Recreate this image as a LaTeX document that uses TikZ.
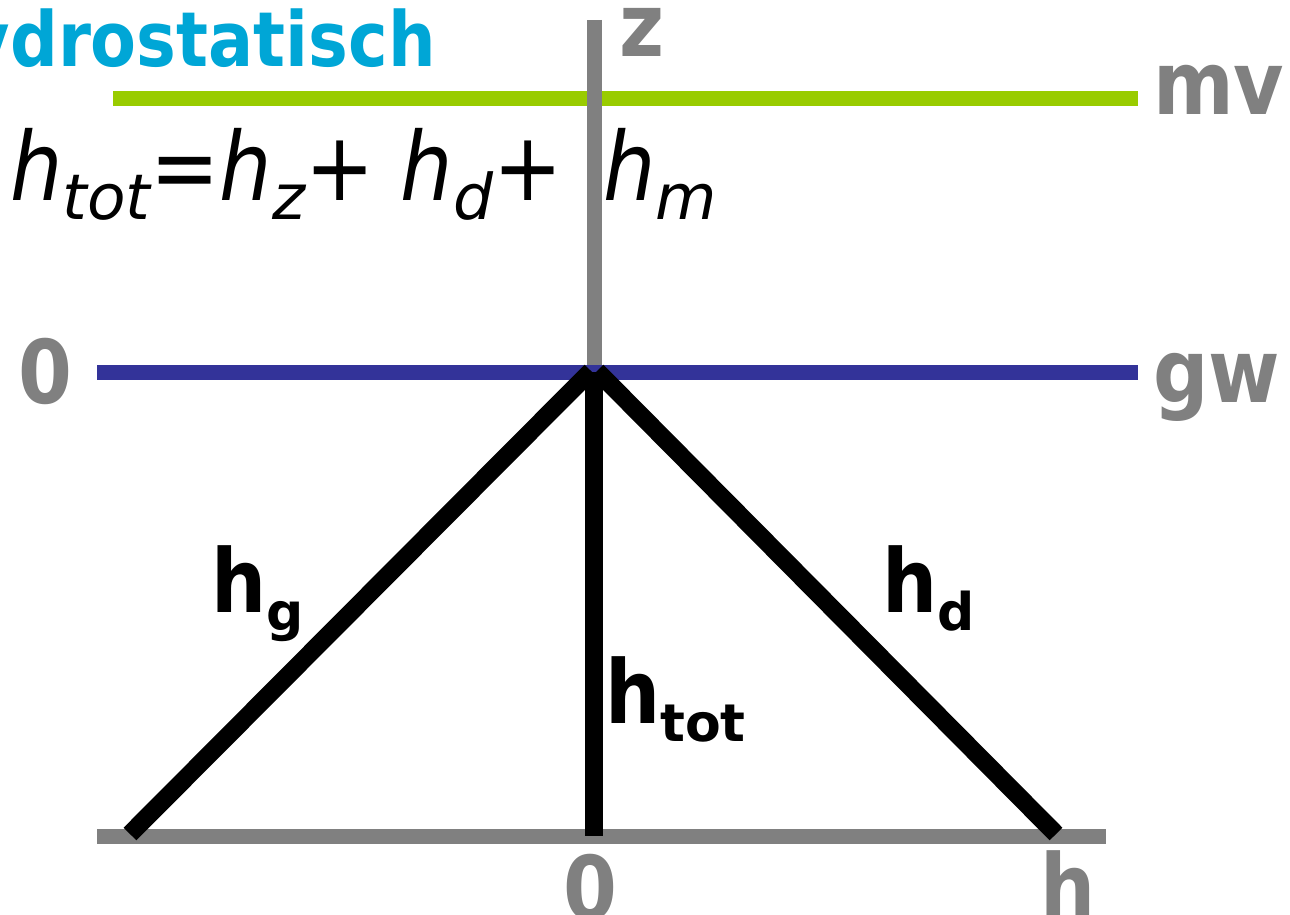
\documentclass[tikz,border=0pt]{standalone}
\usepackage{fontspec}
\newfontfamily\lblfont[FakeStretch=0.88]{DejaVu Sans}
\newfontfamily\subfont{DejaVu Sans}
\newfontfamily\eqfont[FakeStretch=0.87]{DejaVu Sans}
\definecolor{axgray}{HTML}{808080}
\definecolor{mvgreen}{HTML}{99CC00}
\definecolor{gwblue}{HTML}{333399}
\definecolor{titlecyan}{HTML}{00A6D6}
\newcommand{\lsub}[1]{\raisebox{-18pt}{\subfont\bfseries\fontsize{52}{52}\selectfont #1}}
\newcommand{\esub}[1]{\raisebox{-19pt}{\subfont\itshape\fontsize{63}{63}\selectfont #1}}
\tikzset{
  axisline/.style={line width=15pt, draw=axgray},
  headline/.style={line width=18pt, draw=black},
  lbl/.style={font=\lblfont\bfseries\fontsize{88}{88}\selectfont, text=axgray, inner sep=0pt},
  blk/.style={font=\lblfont\bfseries\fontsize{88}{88}\selectfont, text=black, inner sep=0pt},
  eq/.style={font=\eqfont\itshape\fontsize{95}{95}\selectfont, text=black, inner sep=0pt},
}
\begin{document}
\begin{tikzpicture}[x=1pt,y=-1pt]
\useasboundingbox (0,0) rectangle (1290,915);
% coordinates
\coordinate (ztop) at (594,20);
\coordinate (apex) at (594,372);
\coordinate (o) at (594,836);
\coordinate (mvL) at (113,99);
\coordinate (mvR) at (1138,99);
\coordinate (gwL) at (97,372);
\coordinate (gwR) at (1138,372);
\coordinate (bL) at (97,836);
\coordinate (bR) at (1106,836);
\coordinate (hgEnd) at (130,834);
\coordinate (hdEnd) at (1056,834);
\coordinate (apexL) at (591,371);
\coordinate (apexR) at (597,371);
% lines
\draw[line width=15pt, draw=mvgreen] (mvL) -- (mvR);
\draw[axisline] (ztop) -- (apex);
\draw[line width=15pt, draw=gwblue] (gwL) -- (gwR);
\draw[axisline] (bL) -- (bR);
\draw[headline] (hgEnd) -- (apexL);
\draw[headline] (apexR) -- (hdEnd);
\draw[headline] (apex) -- (o);
% labels
\node[anchor=base east, inner sep=0pt, text=titlecyan, font=\lblfont\bfseries\fontsize{76}{76}\selectfont] (title) at (436,67) {hydrostatisch};
\node[lbl, anchor=base] (z) at (642,57) {z};
\node[lbl, anchor=base west] (mv) at (1153,115) {mv};
\node[lbl, anchor=base west] (gw) at (1153,402) {gw};
\node[lbl, anchor=base] (zeroL) at (45,403) {0};
\node[lbl, anchor=base] (zeroB) at (590,919) {0};
\node[lbl, anchor=base] (hB) at (1068,917) {h};
\node[blk, anchor=base west] (hg) at (211,612) {h\lsub{g}};
\node[blk, anchor=base west] (hd) at (882,612) {h\lsub{d}};
\node[blk, anchor=base west] (htot) at (605,723) {h\lsub{tot}};
\node[eq, anchor=base west] (eqn) at (10,200) {h\esub{tot}=h\esub{z}+ h\esub{d}+};
\node[eq, anchor=base west] (hm) at (603,200) {h\esub{m}};
\end{tikzpicture}
\end{document}
